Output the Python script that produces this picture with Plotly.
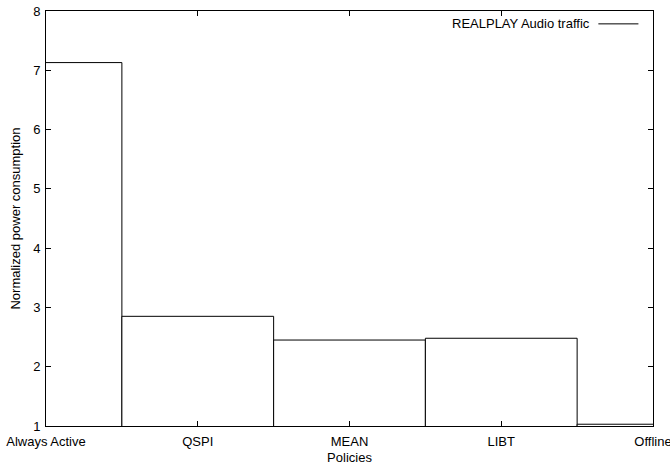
import plotly.graph_objects as go

categories = ["Always Active", "QSPI", "MEAN", "LIBT", "Offline"]
values = [7.13, 2.85, 2.45, 2.48, 1.03]
series_name = "REALPLAY Audio traffic"
yticks = [1, 2, 3, 4, 5, 6, 7, 8]

xpos = list(range(len(categories)))

fig = go.Figure()
fig.add_trace(go.Bar(
    x=xpos, y=values, width=1.0, base=0,
    marker=dict(color="white", line=dict(color="black", width=1)),
    showlegend=False, name=series_name,
))

font = dict(family="Liberation Sans, Arial, sans-serif", size=13, color="black")

fig.update_layout(
    width=670, height=468,
    margin=dict(l=46, r=17, t=11, b=42),
    paper_bgcolor="white", plot_bgcolor="white",
    font=font,
    showlegend=False,
    xaxis=dict(
        range=[0, 4], tickvals=xpos, ticktext=categories,
        ticks="inside", ticklen=5, tickcolor="black",
        showline=True, linecolor="black", linewidth=1, mirror="ticks",
        showgrid=False, zeroline=False, automargin=False,
        ticklabeloverflow="allow", ticklabelstandoff=3,
        title=dict(text="Policies", standoff=5, font=font),
    ),
    yaxis=dict(
        range=[1, 8], tickvals=yticks,
        ticks="inside", ticklen=5, tickcolor="black",
        showline=True, linecolor="black", linewidth=1, mirror="ticks",
        showgrid=False, zeroline=False, automargin=False,
        ticklabeloverflow="allow", ticklabelstandoff=2,
        title=dict(text="Normalized power consumption", standoff=9, font=font),
    ),
    bargap=0,
)

# gnuplot-style legend: text then line sample on the right
fig.add_annotation(
    xref="paper", yref="paper", x=0.899, y=0.969,
    text=series_name, showarrow=False, xanchor="right", yanchor="middle",
    font=font,
)
fig.add_shape(
    type="line", xref="paper", yref="paper",
    x0=0.910, x1=0.976, y0=0.969, y1=0.969,
    line=dict(color="black", width=1),
)

fig.write_html("out.html",
               config={"displayModeBar": False, "staticPlot": True},
               post_script="document.body.style.margin='0';document.body.style.overflow='hidden';")
